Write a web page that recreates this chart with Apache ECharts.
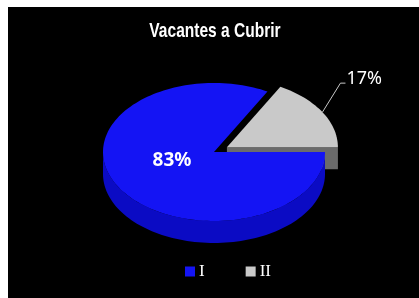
<!DOCTYPE html>
<html><head><meta charset="utf-8">
<script src="https://cdn.jsdelivr.net/npm/echarts@6/dist/echarts.min.js"></script>
<style>html,body{margin:0;padding:0;background:#fff;}#c{width:419px;height:298px;}</style>
</head><body><div id="c"></div>
<script>
const categories = ['I', 'II'];
const values = [83, 17];
const titleText = 'Vacantes a Cubrir';
const colorsTop = ['#1414F4', '#C9C9C9'];
const colorsSide = ['#0B0BC4', '#6B6B6B'];

const total = values.reduce((s, v) => s + v, 0);
const CX = 214, CY = 152, RX = 111, RY = 69, DEPTH = 22;
const EXPLODE = [0, 15];
const START = 0; // degrees (3 o'clock), slices run clockwise
const D2R = Math.PI / 180;

function sliceGeom(i) {
  let before = 0;
  for (let k = 0; k < i; k++) before += values[k];
  const a0 = (START - 360 * before / total) * D2R;
  const a1 = (START - 360 * (before + values[i]) / total) * D2R;
  const mid = (a0 + a1) / 2;
  const e = EXPLODE[i];
  return { a0, a1, mid, cx: CX + e * Math.cos(mid), cy: CY - e * (RY / RX) * Math.sin(mid) };
}
function pt(g, t, dz) { return [g.cx + RX * Math.cos(t), g.cy - RY * Math.sin(t) + (dz || 0)]; }
function arc(g, from, to, dz) {
  const n = Math.max(2, Math.ceil(Math.abs(to - from) / (2 * D2R)));
  const out = [];
  for (let k = 0; k <= n; k++) out.push(pt(g, from + (to - from) * k / n, dz));
  return out;
}
function frontRanges(lo, hi) {
  const res = [];
  for (let k = -3; k <= 3; k++) {
    const s = Math.max(lo, -Math.PI + 2 * Math.PI * k), e = Math.min(hi, 2 * Math.PI * k);
    if (e > s) res.push([s, e]);
  }
  return res;
}
const backness = categories.map((c, i) => Math.sin(sliceGeom(i).mid));
const order = categories.map((c, i) => i).sort((p, q) => backness[q] - backness[p]);

function renderSlice(i) {
  return function (params, api) {
    const g = sliceGeom(i);
    const rank = order.indexOf(i);
    const sideZ = 2 + rank;
    const ch = [];
    const apex = [g.cx, g.cy], apexB = [g.cx, g.cy + DEPTH];
    // radial face on the clockwise edge (faces the viewer when visible)
    if (Math.sin(g.a1 - Math.PI / 2) < 0 && Math.cos(g.a1) > 0.5) {
      ch.push({ type: 'polygon', z2: sideZ, shape: { points: [apex, pt(g, g.a1), pt(g, g.a1, DEPTH), apexB] },
        style: { fill: colorsSide[i] } });
    }
    // outer walls
    frontRanges(g.a1, g.a0).forEach(([s, e]) => {
      const top = arc(g, s, e, 0), bot = arc(g, e, s, DEPTH);
      ch.push({ type: 'polygon', z2: sideZ, shape: { points: top.concat(bot) }, style: { fill: colorsSide[i] } });
    });
    // top face
    ch.push({ type: 'polygon', z2: 20, shape: { points: [apex].concat(arc(g, g.a0, g.a1, 0)) },
      style: { fill: colorsTop[i] } });
    // label
    const pct = Math.round(values[i] / total * 100) + '%';
    if (values[i] / total >= 0.25) {
      const f = 0.44;
      ch.push({ type: 'text', z2: 30, x: g.cx + f * RX * Math.cos(g.mid), y: g.cy - f * RY * Math.sin(g.mid) - 7,
        style: { text: pct, fill: '#fff', font: 'bold 19px "Noto Sans", "Open Sans", sans-serif', align: 'center', verticalAlign: 'middle' } });
    } else {
      const p0 = pt(g, g.mid);
      const p1 = [p0[0] + 18, p0[1] - 29];
      const p2 = [p1[0] + 5, p1[1]];
      ch.push({ type: 'polyline', z2: 30, shape: { points: [p0, p1, p2] }, style: { stroke: '#C8C8C8', lineWidth: 1, fill: null } });
      ch.push({ type: 'text', z2: 30, x: p2[0] + 1, y: p2[1] - 4,
        style: { text: pct, fill: '#fff', font: '18px "Noto Sans", "Open Sans", sans-serif', align: 'left', verticalAlign: 'middle' } });
    }
    return { type: 'group', children: ch };
  };
}

const chart = echarts.init(document.getElementById('c'), null, { renderer: 'canvas' });
chart.setOption({
  animation: false,
  backgroundColor: '#fff',
  graphic: [
    { type: 'rect', z: -10, shape: { x: 8, y: 7, width: 411, height: 291 }, style: { fill: '#000' } },
    { type: 'text', z: 10, x: 215, y: 31, scaleX: 0.74, originX: 0, style: { text: titleText, fill: '#fff',
      font: 'bold 21px "Liberation Sans", "DejaVu Sans", sans-serif', align: 'center', verticalAlign: 'middle' } }
  ],
  legend: {
    data: categories, left: 180, top: 258, icon: 'rect', itemWidth: 10, itemHeight: 10, itemGap: 41,
    textStyle: { color: '#fff', fontFamily: 'Liberation Serif', fontSize: 17, padding: [0, 0, 0, -1] }
  },
  series: categories.map((name, i) => ({
    type: 'custom', name, coordinateSystem: 'none', silent: true,
    itemStyle: { color: colorsTop[i] },
    data: [values[i]],
    renderItem: renderSlice(i)
  }))
});
</script></body></html>
